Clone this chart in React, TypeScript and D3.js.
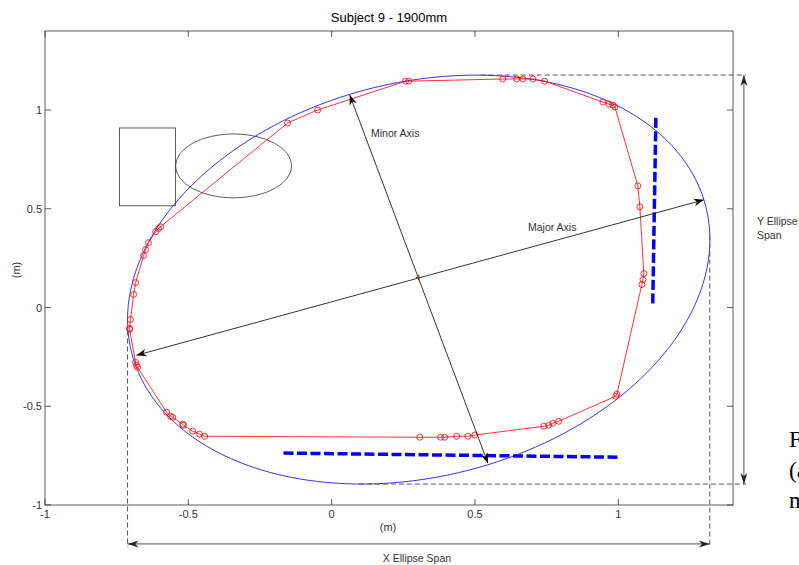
import React from "react";
import * as d3 from "d3";

const TITLE = "Subject 9 - 1900mm";
const X_TICKS = [-1, -0.5, 0, 0.5, 1];
const Y_TICKS = [-1, -0.5, 0, 0.5, 1];
const X_DOMAIN = [-1, 1.4];
const Y_DOMAIN = [-1, 1.4];

// measured trajectory (m)
const PATH_X = [-0.705, -0.702, -0.691, -0.684, -0.656, -0.649, -0.639, -0.614, -0.604, -0.597,
  -0.154, -0.049, 0.258, 0.269, 0.597, 0.646, 0.667, 0.702, 0.743,
  0.946, 0.967, 0.981, 0.988, 1.068, 1.075, 1.089, 1.086, 1.082,
  0.995, 0.991, 0.792, 0.771, 0.757, 0.740, 0.499, 0.475, 0.436, 0.394, 0.380, 0.307,
  -0.443, -0.461, -0.485, -0.517, -0.520, -0.555, -0.562, -0.576, -0.677, -0.681, -0.684, -0.705];
const PATH_Y = [-0.106, -0.061, 0.066, 0.126, 0.263, 0.293, 0.328, 0.384, 0.399, 0.409,
  0.934, 1.000, 1.146, 1.146, 1.157, 1.157, 1.157, 1.157, 1.146,
  1.040, 1.030, 1.025, 1.015, 0.616, 0.510, 0.172, 0.141, 0.116,
  -0.439, -0.449, -0.576, -0.586, -0.596, -0.601, -0.646, -0.652, -0.652, -0.657, -0.657, -0.657,
  -0.652, -0.641, -0.626, -0.596, -0.591, -0.556, -0.551, -0.530, -0.303, -0.293, -0.278, -0.111];

// fitted ellipse (centre and conjugate semi-diameters, m)
const ELLIPSE_CENTER = [0.3037, 0.1414];
const ELLIPSE_U = [0.9948, 0.404];
const ELLIPSE_V = [0.2052, -0.953];
const FIT_CENTER = [0.304, 0.152];

const MAJOR_AXIS = [[-0.681, -0.242], [1.298, 0.545]];
const MINOR_AXIS = [[0.063, 1.076], [0.545, -0.788]];

// walls (blue thick dashed)
const WALL_V = [[1.131, 0.96], [1.12, 0.02]];
const WALL_H = [[-0.168, -0.737], [1.002, -0.758]];

// furniture
const RECT = { x0: -0.74, x1: -0.545, y0: 0.515, y1: 0.909 };
const TABLE = { cx: -0.342, cy: 0.717, rx: 0.2025, ry: 0.162 };

// span annotations
const SPAN_X = { x0: -0.712, x1: 1.319, y: -1.197 };
const SPAN_Y = { y0: 1.177, y1: -0.894, x: 1.438 };

const W = 799, H = 565;
const FONT = "'Liberation Sans', Arial, Helvetica, sans-serif";

function arrowHead(tip: number[], from: number[], len = 10, hw = 3.8) {
  const dx = tip[0] - from[0], dy = tip[1] - from[1];
  const L = Math.hypot(dx, dy);
  const ux = dx / L, uy = dy / L;
  const px = -uy, py = ux;
  const bx = tip[0] - ux * len, by = tip[1] - uy * len;
  const nx = tip[0] - ux * len * 0.7, ny = tip[1] - uy * len * 0.7;
  return `M${tip[0]},${tip[1]}L${bx + px * hw},${by + py * hw}L${nx},${ny}L${bx - px * hw},${by - py * hw}Z`;
}

export default function App() {
  const x = d3.scaleLinear().domain(X_DOMAIN).range([45, 733]);
  const y = d3.scaleLinear().domain(Y_DOMAIN).range([505, 31]);

  const pts: [number, number][] = PATH_X.map((v, i) => [x(v), y(PATH_Y[i])]);
  const line = d3.line();
  const pathD = line([...pts, pts[0]]) || "";

  const ell: [number, number][] = d3.range(0, 361, 2).map((deg) => {
    const t = (deg * Math.PI) / 180;
    return [
      x(ELLIPSE_CENTER[0] + ELLIPSE_U[0] * Math.cos(t) + ELLIPSE_V[0] * Math.sin(t)),
      y(ELLIPSE_CENTER[1] + ELLIPSE_U[1] * Math.cos(t) + ELLIPSE_V[1] * Math.sin(t)),
    ];
  });
  const ellD = d3.line().curve(d3.curveLinearClosed)(ell) || "";

  const P = (p: number[]) => [x(p[0]), y(p[1])];

  const dbl = (a: number[], b: number[], color = "#000", hl = 10, hw = 3.8) => {
    const A = P(a), B = P(b);
    return (
      <g>
        <line x1={A[0]} y1={A[1]} x2={B[0]} y2={B[1]} stroke={color} strokeWidth={0.8} />
        <path d={arrowHead(A, B, hl, hw)} fill={color} />
        <path d={arrowHead(B, A, hl, hw)} fill={color} />
      </g>
    );
  };

  const dashStyle = { stroke: "#555", strokeWidth: 1, strokeDasharray: "5,3", fill: "none" };
  const c = P(FIT_CENTER);

  return (
    <svg width={W} height={H} style={{ position: "absolute", left: 0, top: 0, background: "#fff" }} fontFamily={FONT}>
      <rect x={0} y={0} width={W} height={H} fill="#fff" />
      {/* title */}
      <text x={389} y={22} textAnchor="middle" fontSize={13} fill="#000">{TITLE}</text>

      {/* axes box */}
      <rect x={45} y={31} width={688} height={474} fill="none" stroke="#333" strokeWidth={0.8} />
      {X_TICKS.map((t) => (
        <g key={"x" + t}>
          <line x1={x(t)} x2={x(t)} y1={505} y2={499} stroke="#333" strokeWidth={0.8} />
          <line x1={x(t)} x2={x(t)} y1={31} y2={37} stroke="#333" strokeWidth={0.8} />
          <text x={x(t)} y={518} textAnchor="middle" fontSize={11} fill="#333">{t}</text>
        </g>
      ))}
      {Y_TICKS.map((t) => (
        <g key={"y" + t}>
          <line x1={45} x2={51} y1={y(t)} y2={y(t)} stroke="#333" strokeWidth={0.8} />
          <line x1={733} x2={727} y1={y(t)} y2={y(t)} stroke="#333" strokeWidth={0.8} />
          <text x={42} y={y(t) + 4} textAnchor="end" fontSize={11} fill="#333">{t}</text>
        </g>
      ))}
      <text x={388} y={531} textAnchor="middle" fontSize={11} fill="#333">(m)</text>
      <text transform={`translate(20,270) rotate(-90)`} textAnchor="middle" fontSize={11} fill="#333">(m)</text>

      {/* furniture */}
      <rect x={x(RECT.x0)} y={y(RECT.y1)} width={x(RECT.x1) - x(RECT.x0)} height={y(RECT.y0) - y(RECT.y1)} fill="none" stroke="#333" strokeWidth={0.8} />
      <ellipse cx={x(TABLE.cx)} cy={y(TABLE.cy)} rx={x(TABLE.rx) - x(0)} ry={y(0) - y(TABLE.ry)} fill="none" stroke="#333" strokeWidth={0.8} />

      {/* walls */}
      <line x1={P(WALL_V[0])[0]} y1={P(WALL_V[0])[1]} x2={P(WALL_V[1])[0]} y2={P(WALL_V[1])[1]} stroke="#0000ff" strokeWidth={3.5} strokeDasharray="10,3.5" />
      <line x1={P(WALL_H[0])[0]} y1={P(WALL_H[0])[1]} x2={P(WALL_H[1])[0]} y2={P(WALL_H[1])[1]} stroke="#0000ff" strokeWidth={3.5} strokeDasharray="10,3.5" />

      {/* fitted ellipse */}
      <path d={ellD} fill="none" stroke="#0000ff" strokeWidth={0.8} />

      {/* trajectory */}
      <path d={pathD} fill="none" stroke="#ff0000" strokeWidth={0.8} />
      {pts.map((p, i) => (
        <circle key={i} cx={p[0]} cy={p[1]} r={3} fill="none" stroke="#ff0000" strokeWidth={0.8} />
      ))}

      {/* axes arrows */}
      {dbl(MAJOR_AXIS[0], MAJOR_AXIS[1])}
      {dbl(MINOR_AXIS[0], MINOR_AXIS[1])}
      <path d={`M${c[0] - 3},${c[1]}H${c[0] + 3}M${c[0]},${c[1] - 3}V${c[1] + 3}`} stroke="#cc0000" strokeWidth={1} />
      <text x={371} y={137} fontSize={10.5} fill="#333">Minor Axis</text>
      <text x={528} y={231} fontSize={10.5} fill="#333">Major Axis</text>

      {/* span guides */}
      <line x1={x(0.52)} x2={x(1.445)} y1={y(SPAN_Y.y0)} y2={y(SPAN_Y.y0)} style={dashStyle} />
      <line x1={x(0.095)} x2={x(1.445)} y1={y(SPAN_Y.y1)} y2={y(SPAN_Y.y1)} style={dashStyle} />
      <line x1={x(SPAN_X.x0)} x2={x(SPAN_X.x0)} y1={y(-0.116)} y2={y(-1.212)} style={dashStyle} />
      <line x1={x(SPAN_X.x1)} x2={x(SPAN_X.x1)} y1={y(0.364)} y2={y(-1.212)} style={dashStyle} />
      {dbl([SPAN_X.x0, SPAN_X.y], [SPAN_X.x1, SPAN_X.y], "#222", 11, 3.5)}
      {dbl([SPAN_Y.x, SPAN_Y.y0], [SPAN_Y.x, SPAN_Y.y1], "#222", 11, 3.5)}
      <text x={417} y={562} textAnchor="middle" fontSize={10.5} fill="#333">X Ellipse Span</text>
      <text x={757} y={225} fontSize={10.5} fill="#333">Y Ellipse</text>
      <text x={757} y={239} fontSize={10.5} fill="#333">Span</text>

      {/* page text clipped at the edge, as in the reference */}
      <g fontFamily="'Liberation Serif', 'Times New Roman', serif" fontSize={23} fill="#000">
        <text x={789} y={447}>Fig</text>
        <text x={789} y={478}>(a)</text>
        <text x={789} y={508}>me</text>
      </g>
    </svg>
  );
}
